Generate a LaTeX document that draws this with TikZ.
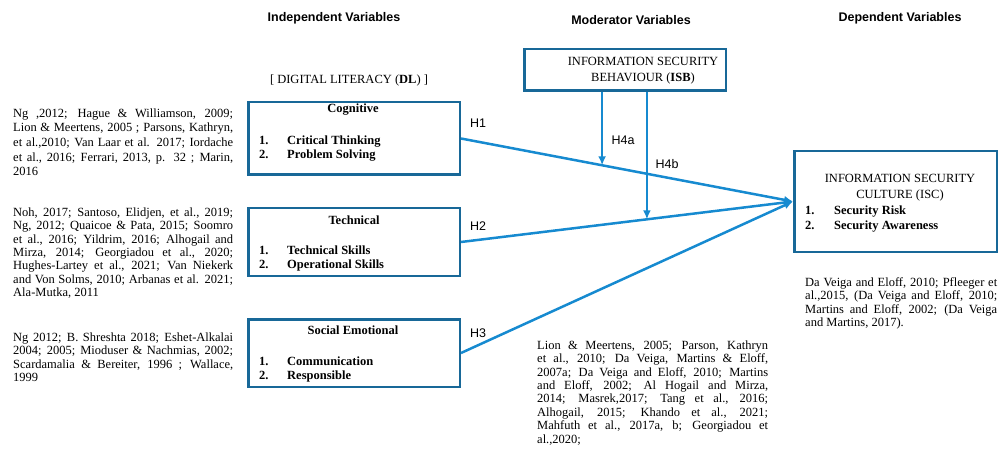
\documentclass[tikz,border=0pt]{standalone}
\usepackage{fontspec}
\setmainfont{Liberation Serif}
\setsansfont{Liberation Sans}
\usetikzlibrary{arrows.meta}
\definecolor{boxblue}{RGB}{24,104,152}
\definecolor{linkblue}{RGB}{22,138,208}
\newcommand{\numitem}[2]{\makebox[28pt][l]{#1}#2}
\newcommand{\nobreaks}{\hyphenpenalty=10000\relax\exhyphenpenalty=10000\relax\tolerance=10000\relax}

\begin{document}
\begin{tikzpicture}[
    x=1pt, y=-1pt,
    heading/.style  = {font=\sffamily\bfseries\fontsize{12.5}{14}\selectfont,
      inner sep=0pt},
    refs/.style     = {anchor=north west, inner sep=0pt, align=justify,
      font=\fontsize{12.5}{13.4}\selectfont\nobreaks},
    dlbox/.style    = {draw=boxblue, line width=2.5pt, minimum width=211.5pt,
      inner sep=0pt},
    boxtitle/.style = {font=\bfseries\fontsize{12.5}{14}\selectfont, inner sep=0pt},
    boxlist/.style  = {anchor=north west, inner sep=0pt, align=left,
      font=\bfseries\fontsize{12.5}{14.5}\selectfont},
    plain/.style    = {font=\fontsize{12.5}{15.5}\selectfont, inner sep=0pt},
    hyp/.style      = {font=\sffamily\fontsize{12.5}{14}\selectfont, inner sep=0pt},
    link/.style     = {draw=linkblue, line width=2.5pt,
      -{Latex[length=9pt,width=8pt]}}
  ]
  \useasboundingbox (0,0) rectangle (1000,454);

  \node[heading] (indep) at (334,18) {Independent Variables};
  \node[heading] (moder) at (631,20) {Moderator Variables};
  \node[heading] (depen) at (900,18) {Dependent Variables};
  \node[plain] (dl) at (349,80) {[ DIGITAL LITERACY (\textbf{DL}) ]};

  \node[dlbox, minimum height=72.5pt] (cog) at (354,138.5) {};
  \node[dlbox, minimum height=67.5pt] (tech) at (354,242) {};
  \node[dlbox, minimum height=67.5pt] (soc) at (354,353) {};
  \node[dlbox, minimum width=201.5pt, minimum height=41.5pt] (isb) at (625,70) {};
  \node[dlbox, minimum width=202.5pt, minimum height=100.5pt] (isc) at (895.5,201.5) {};

  \node[boxtitle] (cogtitle) at (353,110) {Cognitive};
  \node[boxlist] (coglist) at (259,135.5)
    {\numitem{1.}{Critical Thinking}\\\numitem{2.}{Problem Solving}};
  \node[boxtitle] (techtitle) at (354,220) {Technical};
  \node[boxlist] (techlist) at (259,245.5)
    {\numitem{1.}{Technical Skills}\\\numitem{2.}{Operational Skills}};
  \node[boxtitle] (soctitle) at (353,330) {Social Emotional};
  \node[boxlist] (soclist) at (259,356.5)
    {\numitem{1.}{Communication}\\\numitem{2.}{Responsible}};

  \node[plain, align=center] (isbtext) at (643,70.5)
    {INFORMATION SECURITY\\BEHAVIOUR (\textbf{ISB})};
  \node[plain, align=center, font=\fontsize{12.5}{16}\selectfont] (isctitle) at (900,188)
    {INFORMATION SECURITY\\CULTURE (ISC)};
  \node[boxlist, font=\bfseries\fontsize{12.5}{15}\selectfont] (isclist) at (805,205.5)
    {\makebox[29pt][l]{1.}Security Risk\\\makebox[29pt][l]{2.}Security Awareness};

  \node[refs, text width=220pt, font=\fontsize{12.5}{14.6}\selectfont\nobreaks] (cogrefs) at (13,108.5)
    {Ng ,2012; Hague \& Williamson, 2009;\linebreak Lion \& Meertens, 2005 ; Parsons, Kathryn,\linebreak
     et al.,2010; Van Laar et al. 2017; Iordache\linebreak et al., 2016; Ferrari, 2013, p. 32 ; Marin,\linebreak
     2016};
  \node[refs, text width=220pt] (techrefs) at (13,207.5)
    {Noh, 2017; Santoso, Elidjen, et al., 2019;\linebreak Ng, 2012; Quaicoe \& Pata, 2015; Soomro\linebreak
     et al., 2016; Yildrim, 2016; Alhogail and\linebreak Mirza, 2014; Georgiadou et al., 2020;\linebreak
     Hughes-Lartey et al., 2021; Van Niekerk\linebreak and Von Solms, 2010; Arbanas et al. 2021;\linebreak
     Ala-Mutka, 2011};
  \node[refs, text width=220pt] (socrefs) at (13,332.5)
    {Ng 2012; B. Shreshta 2018; Eshet-Alkalai\linebreak 2004; 2005; Mioduser \& Nachmias, 2002;\linebreak
     Scardamalia \& Bereiter, 1996 ; Wallace,\linebreak 1999};
  \node[refs, text width=231pt] (modrefs) at (537,340.5)
    {Lion \& Meertens, 2005; Parson, Kathryn\linebreak et al., 2010; Da Veiga, Martins \& Eloff,\linebreak
     2007a; Da Veiga and Eloff, 2010; Martins\linebreak and Eloff, 2002; Al Hogail and Mirza,\linebreak
     2014; Masrek,2017; Tang et al., 2016;\linebreak Alhogail, 2015; Khando et al., 2021;\linebreak
     Mahfuth et al., 2017a, b; Georgiadou et\linebreak al.,2020;};
  \node[refs, text width=192pt] (deprefs) at (805,277.5)
    {Da Veiga and Eloff, 2010; Pfleeger et\linebreak al.,2015, (Da Veiga and Eloff, 2010;\linebreak
     Martins and Eloff, 2002; (Da Veiga\linebreak and Martins, 2017).};

  \path (cog.east) -- (isc.west) coordinate[pos=0.425] (h4a);
  \path (tech.east) -- (isc.west) coordinate[pos=0.56] (h4b);

  \draw[link] (cog.east) -- (isc.west);
  \draw[link] (tech.east) -- (isc.west);
  \draw[link] (soc.east) -- (isc.west);
  \draw[link] (isb.south -| h4a) -- (h4a);
  \draw[link] (isb.south -| h4b) -- (h4b);

  \node[hyp] (h1) at (478,123) {H1};
  \node[hyp] (h2) at (478,226) {H2};
  \node[hyp] (h3) at (478,333) {H3};
  \node[hyp] (h4alabel) at (623,140) {H4a};
  \node[hyp] (h4blabel) at (667,164) {H4b};
\end{tikzpicture}
\end{document}
